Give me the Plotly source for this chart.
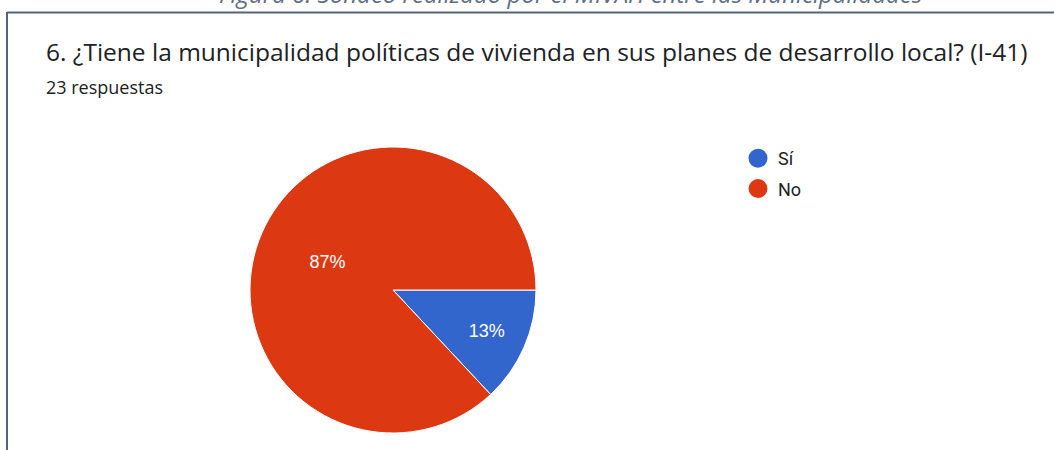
import plotly.graph_objects as go

categories = ["Sí", "No"]
counts = [3, 20]
colors = ["#3366cc", "#dc3912"]
title_text = "6. ¿Tiene la municipalidad políticas de vivienda en sus planes de desarrollo local? (I-41)"
subtitle_text = "23 respuestas"
caption_text = "Figura 6: Sondeo realizado por el MIVAH entre las Municipalidades"

W, H = 1054, 450

fig = go.Figure()
fig.add_trace(go.Pie(
    labels=categories, values=counts, sort=False, direction="clockwise", rotation=90,
    marker=dict(colors=colors, line=dict(color="white", width=1)),
    textinfo="percent", texttemplate="%{percent:.0%}", textposition="inside",
    insidetextfont=dict(color="white", size=18, family="Arial, Liberation Sans"),
    insidetextorientation="horizontal",
    domain=dict(x=[250 / W, 536 / W], y=[17 / H, 303 / H]),
    showlegend=False, hoverinfo="label+percent",
))
for c, col in zip(categories, colors):
    fig.add_trace(go.Scatter(x=[None], y=[None], mode="markers", name=c, legendgroup=c,
                             marker=dict(color=col, size=16, symbol="circle",
                                         line=dict(color=col, width=3))))

fig.update_layout(
    width=W, height=H, margin=dict(l=0, r=0, t=0, b=0),
    paper_bgcolor="white", plot_bgcolor="white",
    xaxis=dict(visible=False), yaxis=dict(visible=False),
    legend=dict(x=738 / W, y=1 - 140 / H, xanchor="left", yanchor="top",
                font=dict(family="Roboto, Arial", size=18, color="#212121"),
                itemsizing="trace", traceorder="grouped", tracegroupgap=4,
                bgcolor="rgba(0,0,0,0)"),
    shapes=[
        dict(type="line", xref="paper", yref="paper", x0=7 / W, x1=1, y0=1 - 12.5 / H, y1=1 - 12.5 / H,
             line=dict(color="#56627a", width=2)),
        dict(type="line", xref="paper", yref="paper", x0=7 / W, x1=7 / W, y0=0, y1=1 - 12 / H,
             line=dict(color="#56627a", width=2)),
    ],
    annotations=[
        dict(text="<i>" + caption_text + "</i>", xref="paper", yref="paper", x=570 / W, y=1 - 12 / H,
             xanchor="center", yanchor="bottom", showarrow=False,
             font=dict(family="Open Sans", size=24, color="#5f6f80")),
        dict(text=title_text, xref="paper", yref="paper", x=44 / W, y=1 - 33 / H,
             xanchor="left", yanchor="top", showarrow=False,
             font=dict(family="Open Sans", size=24.5, color="#202124")),
        dict(text=subtitle_text, xref="paper", yref="paper", x=44 / W, y=1 - 73 / H,
             xanchor="left", yanchor="top", showarrow=False,
             font=dict(family="Open Sans", size=18, color="#202124")),
    ],
)
fig.write_html("out.html", config={"displayModeBar": False},
               post_script="document.body.style.margin='0';document.body.style.overflow='hidden';")
